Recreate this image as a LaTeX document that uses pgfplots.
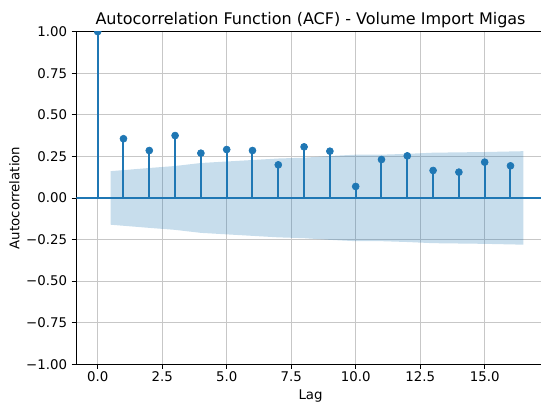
\documentclass[border=0pt]{standalone}
\usepackage{fontspec}
\setmainfont{DejaVu Sans}
\usepackage{pgfplots}
\pgfplotsset{compat=1.18}
\definecolor{c0}{HTML}{1F77B4}
\begin{document}
\begin{tikzpicture}
\begin{axis}[at={(0,0)}, anchor=south west, scale only axis,
  width=351.2pt, height=249.5pt,
  xmin=-0.825, xmax=17.325, ymin=-1, ymax=1,
  xtick={0,2.5,5,7.5,10,12.5,15},
  xticklabels={0.0,2.5,5.0,7.5,10.0,12.5,15.0},
  ytick={-1,-0.75,-0.5,-0.25,0,0.25,0.5,0.75,1},
  yticklabels={−1.00,−0.75,−0.50,−0.25,0.00,0.25,0.50,0.75,1.00},
  grid=major, grid style={color=black!22, line width=0.8pt},
  tick style={black, line width=0.6pt}, tick align=outside, major tick length=3.5pt,
  xtick pos=left, ytick pos=left,
  axis line style={line width=0.6pt},
  ticklabel style={font=\fontsize{10}{12}\selectfont},
  xticklabel style={yshift=1.5pt},
  title={Autocorrelation Function (ACF) - Volume Import Migas},
  title style={font=\fontsize{12}{14}\selectfont, yshift=-6.5pt},
  xlabel={Lag}, ylabel={Autocorrelation},
  label style={font=\fontsize{10}{12}\selectfont},
  xlabel style={yshift=0.5pt},
  ylabel style={yshift=-2pt},
  clip marker paths=true,
]
\addplot[fill=c0, fill opacity=0.25, draw=none] coordinates {
 (0.5,0.161) (2,0.180) (3,0.192) (4,0.210) (5,0.219) (6,0.228) (7,0.237) (8,0.242)
 (9,0.252) (10,0.260) (11,0.260) (12,0.265) (13,0.272) (14,0.274) (15,0.276) (16.5,0.281)
 (16.5,-0.281) (15,-0.276) (14,-0.274) (13,-0.272) (12,-0.265) (11,-0.260) (10,-0.260) (9,-0.252)
 (8,-0.242) (7,-0.237) (6,-0.228) (5,-0.219) (4,-0.210) (3,-0.192) (2,-0.180) (0.5,-0.161)
} -- cycle;
\addplot[c0, line width=1.1pt, forget plot] coordinates {(-0.825,0) (17.325,0)};
\addplot[draw=c0, ycomb, line width=1.5pt, mark=*, mark size=2.6pt, mark options={fill=c0, draw=c0, line width=0.5pt}] coordinates {
 (0,1.0) (1,0.356) (2,0.285) (3,0.375) (4,0.269) (5,0.291) (6,0.285) (7,0.199) (8,0.307)
 (9,0.281) (10,0.069) (11,0.231) (12,0.253) (13,0.165) (14,0.155) (15,0.215) (16,0.193)
};
\end{axis}
\pgfresetboundingbox
\useasboundingbox (-57.3pt,-29pt) rectangle (348.45pt,273.2pt);
\end{tikzpicture}
\end{document}
